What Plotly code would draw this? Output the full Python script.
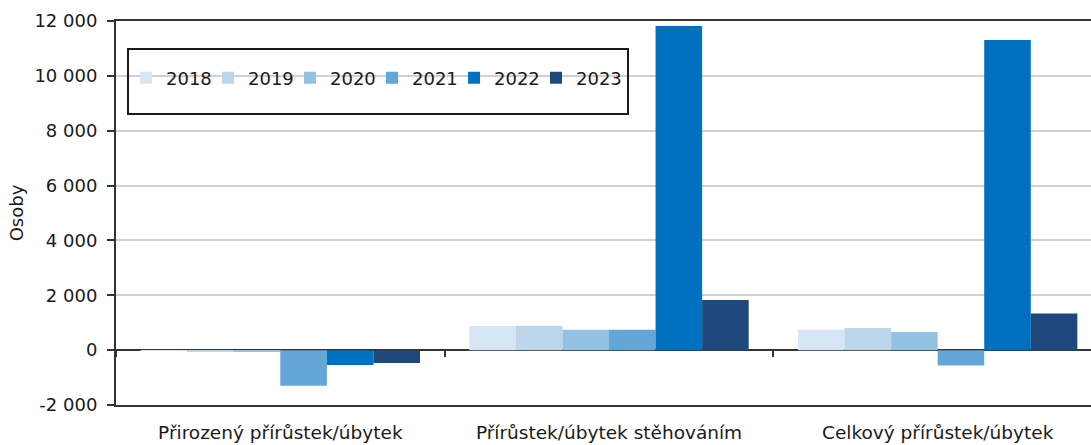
import plotly.graph_objects as go

categories = ["Přirozený přírůstek/úbytek", "Přírůstek/úbytek stěhováním", "Celkový přírůstek/úbytek"]
years = ["2018", "2019", "2020", "2021", "2022", "2023"]
v2018 = [-30, 880, 740]
v2019 = [-50, 890, 810]
v2020 = [-60, 740, 665]
v2021 = [-1300, 740, -560]
v2022 = [-545, 11820, 11310]
v2023 = [-470, 1830, 1335]
series = [v2018, v2019, v2020, v2021, v2022, v2023]
colors = ["#d6e6f4", "#bcd7ec", "#94c2e3", "#62a7d6", "#0070c0", "#1f497d"]
y_ticks = [-2000, 0, 2000, 4000, 6000, 8000, 10000, 12000]
y_labels = ["-2 000", "0", "2 000", "4 000", "6 000", "8 000", "10 000", "12 000"]

FONT = "DejaVu Sans"
FS = 18
W, H = 1102, 445
L, T, B = 116, 21, 40
PW, PH = W - L, H - T - B

fig = go.Figure()
for yr, vals, col in zip(years, series, colors):
    fig.add_trace(go.Bar(name=yr, x=categories, y=vals, marker=dict(color=col, line=dict(width=0))))

# dummy trace: carries the secondary x-axis (ticks at the zero line) and pads the legend end
fig.add_trace(go.Scatter(x=[-0.5], y=[None], xaxis="x2", mode="lines", line=dict(width=0),
                         name=" ", showlegend=True, hoverinfo="skip"))

ymin, ymax = -2000, 12000
fig.update_layout(
    width=W, height=H,
    margin=dict(l=L, r=0, t=T, b=B, autoexpand=False),
    paper_bgcolor="white", plot_bgcolor="white",
    barmode="group", bargap=0.15, bargroupgap=0,
    font=dict(family=FONT, size=FS, color="#1a1a1a"),
    xaxis=dict(
        type="category", range=[-0.5, 2.5], showgrid=False, ticks="",
        showline=True, linecolor="#333333", linewidth=2, mirror=True,
        ticklabelstandoff=10, tickfont=dict(size=18.5), automargin=False,
    ),
    xaxis2=dict(
        overlaying="x", anchor="free", position=(0 - ymin) / (ymax - ymin),
        range=[-0.5, 2.5], tickmode="array", tickvals=[-0.5, 0.5, 1.5, 2.5],
        showticklabels=False, ticks="outside", ticklen=6, tickwidth=2, tickcolor="#333333",
        showgrid=False, showline=False, zeroline=False, side="bottom", automargin=False,
    ),
    yaxis=dict(
        range=[ymin, ymax], tickmode="array", tickvals=y_ticks, ticktext=y_labels,
        showgrid=True, gridcolor="#d0d0d0", gridwidth=1.5,
        zeroline=True, zerolinecolor="#333333", zerolinewidth=2,
        showline=True, linecolor="#333333", linewidth=2, mirror=True,
        ticks="outside", ticklen=7, tickwidth=2, tickcolor="#333333",
        ticklabelstandoff=6, automargin=False,
        title=dict(text="Osoby", standoff=6, font=dict(size=FS)),
    ),
    legend=dict(
        orientation="h", x=10 / PW, xanchor="left", y=1 - (78 - T) / PH, yanchor="middle",
        bgcolor="rgba(0,0,0,0)", borderwidth=0,
        entrywidth=37, entrywidthmode="pixels",
        font=dict(size=FS), traceorder="normal",
    ),
    shapes=[dict(
        type="rect", xref="paper", yref="paper",
        x0=(128 - L) / PW, x1=(628 - L) / PW,
        y0=1 - (114 - T) / PH, y1=1 - (49 - T) / PH,
        line=dict(color="#1a1a1a", width=2), fillcolor="rgba(0,0,0,0)", layer="above",
    )],
)

fig.write_html(
    "out.html",
    config={"displayModeBar": False},
    post_script="document.body.style.margin='0';document.body.style.overflow='hidden';",
)
